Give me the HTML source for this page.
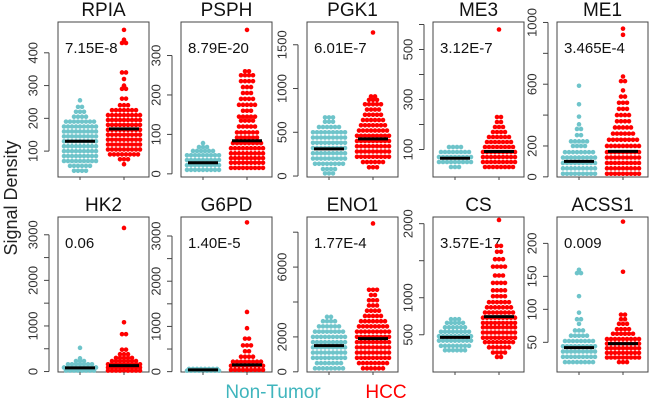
<!DOCTYPE html>
<html><head><meta charset="utf-8"><style>
body{margin:0;background:#fff;width:650px;height:404px;overflow:hidden;font-family:"Liberation Sans",sans-serif}
svg text{font-family:"Liberation Sans","DejaVu Sans",sans-serif}
</style></head><body>
<svg id="chart" width="650" height="404" xmlns="http://www.w3.org/2000/svg">
<text x="12" y="198" transform="rotate(-90 12 198)" text-anchor="middle" dominant-baseline="middle" font-size="18" fill="#222">Signal Density</text>
<text x="273" y="398" text-anchor="middle" font-size="19" fill="#3fb5bd">Non-Tumor</text>
<text x="386" y="398" text-anchor="middle" font-size="19" fill="#ff0000">HCC</text>
</svg>
<script>
const genes=["RPIA","PSPH","PGK1","ME3","ME1","HK2","G6PD","ENO1","CS","ACSS1"];
const pvalues=["7.15E-8","8.79E-20","6.01E-7","3.12E-7","3.465E-4","0.06","1.40E-5","1.77E-4","3.57E-17","0.009"];
const medNT=[130,28,310,65,100,80,40,1500,465,42];
const medHCC=[168,84,425,92,165,130,150,1900,745,48];
const ticks=[[100,200,300,400],[0,100,200,300],[0,500,1000,1500],[100,200,300,400,500,600],[0,200,400,600,800,1000],[0,500,1000,1500,2000,2500,3000],[0,500,1000,1500,2000,2500,3000],[0,2000,4000,6000,8000],[500,1000,1500,2000],[50,100,150,200]];
const tickLabels=[[100,200,300,400],[0,100,200,300],[0,500,1000,1500],[100,300,500],[0,200,600,1000],[0,1000,2000,3000],[0,1000,2000,3000],[0,2000,6000],[500,1000,2000],[50,100,150,200]];
// [value,count] rows of the swarm
const swarmNT=[
[[40,4],[55,6],[70,9],[85,9],[100,9],[115,9],[130,9],[145,9],[160,9],[175,9],[190,8],[205,4],[220,3],[235,2],[255,1]],
[[10,9],[22,9],[35,9],[47,9],[58,6],[68,3],[78,1]],
[[30,3],[80,4],[140,8],[200,9],[260,9],[320,9],[380,9],[440,9],[500,9],[560,6],[620,3],[670,3]],
[[30,3],[50,9],[70,9],[90,8],[110,4]],
[[20,9],[55,9],[90,9],[125,9],[160,8],[200,4],[230,5],[270,2],[310,2],[340,1],[390,1],[470,1],[590,1]],
[[20,8],[90,9],[160,7],[230,3],[290,1],[520,1]],
[[20,9],[60,8]],
[[200,8],[500,7],[800,9],[1100,9],[1400,9],[1700,9],[2000,9],[2300,8],[2600,6],[2900,4],[3150,2]],
[[290,6],[350,8],[420,9],[480,9],[540,8],[600,6],[660,5],[710,3]],
[[20,8],[28,9],[36,9],[44,9],[52,8],[60,5],[68,3],[78,1],[85,2],[95,1],[120,1],[155,2],[160,1]]];
const swarmHCC=[
[[60,1],[75,3],[90,8],[105,9],[120,9],[135,9],[150,9],[165,9],[180,9],[195,9],[210,9],[225,7],[240,3],[260,2],[290,2],[300,1],[320,1],[340,2],[430,2],[440,1],[470,1]],
[[15,9],[28,9],[40,9],[52,9],[65,9],[78,8],[92,6],[105,6],[120,5],[135,4],[145,5],[160,3],[175,5],[190,4],[205,3],[220,3],[235,4],[250,4],[260,2],[365,1]],
[[100,3],[160,6],[220,9],[280,9],[340,9],[400,9],[460,9],[520,8],[580,7],[640,6],[700,5],[760,4],[820,5],[870,3],[910,2],[1640,1]],
[[30,8],[50,9],[70,9],[90,9],[110,8],[130,7],[150,6],[170,4],[190,3],[210,2],[230,2],[580,1]],
[[20,9],[55,9],[90,9],[125,9],[160,9],[200,9],[240,8],[280,6],[320,5],[360,4],[400,4],[440,3],[480,3],[520,2],[560,1],[620,2],[650,1],[920,1],[960,1]],
[[20,9],[90,9],[160,9],[230,7],[300,5],[380,3],[480,2],[820,2],[1080,1],[3150,1]],
[[40,9],[130,9],[220,8],[330,4],[450,2],[580,3],[730,2],[960,1],[1320,1],[3300,1]],
[[200,6],[500,8],[800,9],[1100,9],[1400,9],[1700,9],[2000,9],[2300,9],[2600,8],[2900,7],[3200,5],[3500,4],[3800,3],[4100,3],[4400,2],[4700,3],[8500,1]],
[[200,2],[260,4],[330,6],[400,8],[460,9],[530,9],[600,9],[660,9],[730,9],[800,8],[870,7],[940,6],[1020,4],[1100,4],[1200,4],[1300,3],[1420,4],[1520,3],[1620,2],[1700,2],[2050,1]],
[[20,3],[27,9],[34,9],[41,9],[48,9],[55,9],[63,6],[70,4],[78,3],[85,2],[92,2],[157,1],[233,1]]];
// axis domains [valueAtBottom, valueAtTop] of each panel box
const domLo=[21,-8,-11,-10,-1,-10,-8,-11,-3,5];
const domHi=[494,385,1760,610,1003,3390,3420,8870,2090,240];

const svg=document.getElementById('chart');
const NS='http://www.w3.org/2000/svg';
const colX=[58,181,307,433,557], rowY=[22,217], W=91, H=155;
function mk(tag,attrs){const e=document.createElementNS(NS,tag);for(const k in attrs)e.setAttribute(k,attrs[k]);svg.appendChild(e);return e;}
genes.forEach((g,i)=>{
  const x0=colX[i%5], y0=rowY[Math.floor(i/5)];
  const y=v=>y0+H-(v-domLo[i])/(domHi[i]-domLo[i])*H;
  const box=mk('rect',{x:x0,y:y0,width:W,height:H,fill:'none',stroke:'#444','stroke-width':1});
  
  
  const t=mk('text',{x:x0+W/2,y:y0-6,'text-anchor':'middle','font-size':19,fill:'#111'});t.textContent=g;
  
  
  const p=mk('text',{x:x0+7,y:y0+31,'font-size':15,fill:'#111'});p.textContent=pvalues[i];
  
  
  const ax=x0-9, tk=ticks[i];
  const al=mk('line',{x1:ax,x2:ax,y1:y(tk[0]),y2:y(tk[tk.length-1]),stroke:'#444'});
  
  
  tk.forEach(v=>{
    const l=mk('line',{x1:ax-5,x2:ax,y1:y(v),y2:y(v),stroke:'#444'});
    
    
  });
  tickLabels[i].forEach(v=>{
    const lx=ax-15, ly=y(v);
    const tl=mk('text',{x:lx,y:ly,'text-anchor':'middle','dominant-baseline':'middle','font-size':13,fill:'#333',transform:`rotate(-90 ${lx} ${ly})`});
    tl.textContent=v;
    
    
  });
  [[swarmNT[i],x0+22,'#6ec4ca',medNT[i]],[swarmHCC[i],x0+66,'#ff0000',medHCC[i]]].forEach(([rows,cx,col,med])=>{
    rows.forEach(([v,n])=>{
      for(let k=0;k<n;k++){
        const c=mk('circle',{cx:cx+(k-(n-1)/2)*4.0,cy:y(v),r:2.3,fill:col});
        
        
      }
    });
    const m=mk('line',{x1:cx-15,x2:cx+15,y1:y(med),y2:y(med),stroke:'#000','stroke-width':3});
    
    
  });
  [x0+22,x0+66].forEach(cx=>{
    const xt=mk('line',{x1:cx,x2:cx,y1:y0+H,y2:y0+H+3,stroke:'#444'});
    
    
  });
});
</script>
</body></html>
